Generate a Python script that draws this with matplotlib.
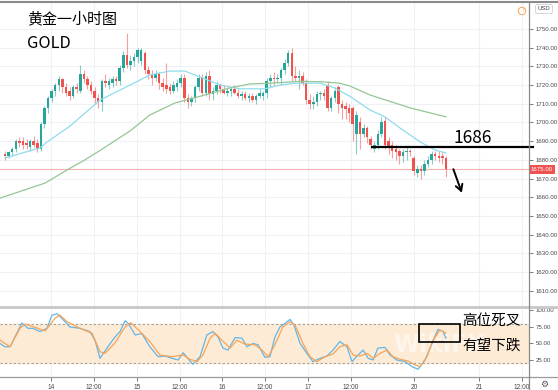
import numpy as np
import matplotlib.pyplot as plt
from matplotlib.lines import Line2D
from matplotlib.patches import Rectangle
import matplotlib.transforms as mtransforms

plt.rcParams['font.family'] = ['Noto Sans CJK SC', 'DejaVu Sans']

# hourly gold candles
opens = [1683, 1682, 1684, 1686, 1690, 1690, 1689, 1687, 1690, 1689,
         1686, 1699, 1708, 1713, 1717, 1720, 1723, 1719, 1717, 1714,
         1719, 1717, 1726, 1723, 1720, 1717, 1713, 1711, 1722, 1720,
         1721, 1723, 1722, 1729, 1736, 1731, 1733, 1735, 1733, 1737,
         1728, 1726, 1724, 1726, 1721, 1720, 1719, 1717, 1719, 1721,
         1724, 1713, 1711, 1713, 1719, 1724, 1716, 1725, 1715, 1717,
         1720, 1718, 1716, 1717, 1718, 1716, 1714, 1715, 1713, 1714,
         1712, 1714, 1714, 1716, 1722, 1724, 1723, 1724, 1728, 1732,
         1737, 1725, 1724, 1725, 1721, 1712, 1710, 1711, 1715, 1716,
         1720, 1708, 1713, 1719, 1710, 1709, 1708, 1708, 1694, 1700,
         1694, 1697, 1691, 1686, 1688, 1694, 1701, 1690, 1688, 1686,
         1685, 1682, 1684, 1685, 1681, 1673, 1675, 1674, 1678, 1680,
         1683, 1682, 1682, 1681]
highs = [1685, 1685, 1687, 1691, 1692, 1692, 1691, 1691, 1693, 1691,
         1700, 1709, 1714, 1718, 1721, 1725, 1724, 1721, 1719, 1720,
         1721, 1731, 1728, 1725, 1722, 1719, 1715, 1723, 1726, 1724,
         1725, 1725, 1731, 1738, 1748, 1736, 1737, 1740, 1740, 1738,
         1730, 1728, 1728, 1727, 1724, 1732, 1721, 1722, 1723, 1726,
         1726, 1715, 1714, 1720, 1726, 1726, 1727, 1728, 1719, 1722,
         1721, 1720, 1719, 1719, 1720, 1718, 1717, 1717, 1716, 1716,
         1715, 1718, 1717, 1724, 1726, 1727, 1726, 1729, 1734, 1739,
         1740, 1730, 1728, 1727, 1723, 1715, 1714, 1717, 1717, 1718,
         1722, 1714, 1719, 1720, 1712, 1711, 1710, 1709, 1706, 1703,
         1699, 1698, 1693, 1690, 1696, 1703, 1703, 1692, 1690, 1688,
         1686, 1686, 1687, 1686, 1682, 1677, 1677, 1680, 1682, 1685,
         1685, 1685, 1684, 1682]
lows = [1680, 1681, 1682, 1684, 1687, 1686, 1686, 1685, 1687, 1684,
        1685, 1697, 1705, 1711, 1714, 1717, 1716, 1714, 1712, 1713,
        1716, 1716, 1721, 1718, 1715, 1710, 1708, 1706, 1719, 1718,
        1719, 1720, 1720, 1727, 1729, 1728, 1730, 1732, 1731, 1726,
        1723, 1720, 1722, 1718, 1717, 1716, 1715, 1716, 1717, 1719,
        1711, 1708, 1709, 1711, 1717, 1714, 1714, 1712, 1712, 1715,
        1716, 1715, 1714, 1714, 1715, 1713, 1712, 1712, 1711, 1711,
        1710, 1713, 1712, 1713, 1719, 1720, 1721, 1720, 1726, 1730,
        1722, 1722, 1718, 1720, 1710, 1707, 1707, 1709, 1712, 1712,
        1706, 1706, 1711, 1705, 1702, 1702, 1700, 1690, 1683, 1686,
        1692, 1689, 1686, 1684, 1686, 1692, 1686, 1683, 1681, 1680,
        1678, 1679, 1680, 1682, 1672, 1671, 1670, 1672, 1676, 1678,
        1680, 1679, 1678, 1671]
closes = [1682, 1684, 1686, 1690, 1689, 1688, 1688, 1690, 1688, 1686,
          1699, 1708, 1713, 1717, 1720, 1723, 1719, 1716, 1714, 1719,
          1718, 1726, 1723, 1720, 1717, 1713, 1711, 1722, 1721, 1722,
          1723, 1722, 1729, 1736, 1731, 1733, 1735, 1739, 1739, 1728,
          1726, 1724, 1726, 1721, 1719, 1718, 1717, 1720, 1721, 1724,
          1713, 1711, 1713, 1719, 1724, 1716, 1725, 1715, 1717, 1720,
          1718, 1716, 1717, 1718, 1716, 1714, 1715, 1713, 1714, 1712,
          1714, 1716, 1716, 1722, 1724, 1723, 1724, 1728, 1732, 1737,
          1725, 1724, 1725, 1721, 1712, 1710, 1711, 1715, 1716, 1714,
          1708, 1713, 1717, 1710, 1708, 1707, 1705, 1699, 1704, 1694,
          1697, 1692, 1688, 1688, 1694, 1700, 1688, 1687, 1685, 1684,
          1682, 1684, 1685, 1684, 1674, 1675, 1674, 1678, 1680, 1683,
          1682, 1681, 1681, 1675]

# moving averages (bar position, price)
ma_fast_x = [0, 9.8, 11.7, 18.1, 26.5, 34.9, 40.4, 46.0, 50.2, 54.4, 60.0, 65.6,
             72.5, 76.7, 80.9, 85.1, 87.9, 92.0, 96.2, 101.8, 106.0, 110.2,
             115.8, 119.9, 123.0]
ma_fast_y = [1681, 1686.4, 1689.5, 1698, 1712, 1720, 1725.4, 1727.5, 1727.5,
             1724.3, 1720, 1718, 1718, 1720, 1721, 1721, 1721, 1718.4, 1714,
             1706.7, 1703, 1697, 1689.6, 1685.3, 1683.7]
ma_slow_x = [-1.4, 11.2, 17.3, 22.3, 26.5, 34.9, 40.4, 47.4, 54.4, 62.8, 68.3,
             73.9, 82.3, 87.9, 93.4, 96.2, 101.8, 108.8, 113.0, 123.0]
ma_slow_y = [1659.5, 1667.6, 1674.6, 1680, 1685, 1695.5, 1704, 1710.4, 1714,
             1718.5, 1720.6, 1721, 1722, 1721.8, 1721, 1719.5, 1714.7, 1710.4,
             1707.8, 1703]

# stochastic %K / %D
k_x = [-1.4, 0, 1.4, 2.8, 4.7, 6.4, 7.8, 9.8, 11.7, 13.1, 14.5, 15.9, 18.1,
       20.9, 23.7, 25.1, 26.5, 28.7, 30.7, 32.1, 33.5, 34.3, 36.3, 38.2, 40.4,
       42.7, 44.6, 46.6, 48.3, 49.7, 51.0, 52.4, 54.4, 56.3, 58.0, 59.4, 60.8,
       62.2, 64.2, 66.1, 67.5, 69.2, 70.6, 72.5, 73.9, 75.3, 76.7, 78.7, 79.5,
       80.6, 82.3, 84.2, 85.9, 87.9, 89.8, 91.5, 93.4, 95.4, 96.8, 98.2, 99.9,
       101.3, 102.7, 104.0, 106.0, 107.4, 109.3, 111.6, 113.5, 115.2, 117.2,
       119.1, 120.8, 122.2, 123.0]
k_val = [50, 45, 45, 60, 81, 73, 73, 68, 73, 93, 95, 88, 75, 73, 68, 55, 27.5,
         45, 60, 68, 84.5, 81, 63, 65, 45, 30, 31, 27.5, 25, 36, 27.5, 18.5, 30,
         63, 68, 60, 43, 40, 59, 58, 45, 50, 48, 29, 30, 60, 75, 83, 86.5, 78,
         50, 35, 22.5, 27.5, 31, 40, 53, 45, 22.5, 31, 40, 27.5, 25, 43, 44,
         32.5, 25, 22.5, 15, 11, 25, 50, 71.5, 68, 58]
d_x = [-1.4, 1.4, 4.2, 5.6, 8.4, 11.2, 13.9, 15.3, 17.3, 20.9, 24.3, 26.5, 27.9,
       30.7, 33.5, 35.1, 37.7, 40.4, 43.2, 46.6, 49.7, 51.6, 53.6, 55.2, 57.2,
       58.6, 60.5, 62.8, 64.7, 66.9, 69.7, 71.7, 73.4, 75.3, 77.5, 79.5, 80.9,
       83.1, 85.1, 87.0, 89.3, 91.5, 93.4, 95.4, 97.1, 99.0, 101.0, 102.7,
       104.6, 106.6, 108.2, 110.2, 112.4, 114.4, 115.8, 117.7, 119.4, 121.3,
       123.0]
d_val = [55, 45, 73, 79.5, 74.5, 69, 88, 93, 83, 73, 65.5, 37.5, 35, 51, 75,
         81.5, 68, 53, 32.5, 30, 32.5, 26, 22.5, 32.5, 58, 65.5, 55, 43, 55, 49,
         48, 40, 30, 48, 75, 83, 78, 50, 30, 22.5, 30, 34, 45, 48, 32.5, 31, 35,
         27.5, 35, 40, 30, 26, 23.5, 17.5, 15, 30, 55, 70.5, 65.5]

price_ticks = list(range(1610, 1751, 10))
stoch_ticks = [25, 50, 75, 100]
time_labels = ['14', '12:00', '15', '12:00', '16', '12:00', '17', '12:00', '20', '21', '12:00']
time_pos = [12.8, 24.8, 36.8, 48.8, 60.5, 72.5, 84.5, 96.5, 114.1, 132.2, 144.2]

last_price = 1675
level = 1686.8

W, H = 558, 390
fig = plt.figure(figsize=(W / 100, H / 100), dpi=100)
ax = fig.add_axes([0, 83 / H, 529 / W, 304 / H])
ax2 = fig.add_axes([0, 13 / H, 529 / W, 70 / H])

xlim = (-5 / 3.585, 524 / 3.585)
grid_c = '#eef1f5'
up_c, dn_c = '#26a69a', '#ef5350'
tick_font = 'Liberation Sans'
tick_fs = 4.4

# main panel
ax.set_xlim(*xlim)
ax.set_ylim(1601.3, 1763.9)
for p in price_ticks:
    ax.axhline(p, color=grid_c, lw=0.8, zorder=0)
for t in time_pos:
    ax.axvline(t, color=grid_c, lw=0.8, zorder=0)
    ax2.axvline(t, color=grid_c, lw=0.8, zorder=0)

o, h, l, c = map(np.array, (opens, highs, lows, closes))
idx = np.arange(len(c))
cols = np.where(c >= o, up_c, dn_c)
ax.vlines(idx, l, h, colors=cols, lw=0.8, alpha=0.55, zorder=2)
ax.bar(idx, np.maximum(np.abs(c - o), 0.5), bottom=np.minimum(o, c), width=0.7,
       color=cols, linewidth=0, zorder=3)

ax.plot(ma_fast_x, ma_fast_y, color='#8fdcec', lw=0.9, zorder=4)
ax.plot(ma_slow_x, ma_slow_y, color='#95c795', lw=0.9, zorder=4)
ax.axhline(last_price, color='#f7b0b0', lw=0.8, zorder=1)

ax.plot([102.4, xlim[1] + 1], [level, level], color='black', lw=1.6, zorder=5, clip_on=False)
ax.text(130.5, 1691.7, '1686', fontsize=12.5, ha='center', va='center', zorder=6)
ax.annotate('', xy=(127.7, 1661), xytext=(124.8, 1676.4),
            arrowprops=dict(arrowstyle='->,head_length=0.45,head_width=0.25',
                            color='black', lw=1.4))

ax.yaxis.tick_right()
ax.set_yticks(price_ticks)
ax.set_yticklabels([f'{p:.2f}' for p in price_ticks], family=tick_font)
ax.tick_params(axis='y', labelsize=tick_fs, colors='#666666', length=3, pad=2, width=0.6)
ax.tick_params(axis='y', labelcolor='#4a4a4a')
ax.set_xticks([])
for s in ax.spines.values():
    s.set_visible(False)

ax.text(1.003, last_price, f'{last_price:.2f}',
        transform=mtransforms.blended_transform_factory(ax.transAxes, ax.transData),
        fontsize=tick_fs, color='white', ha='left', va='center', family=tick_font,
        bbox=dict(boxstyle='square,pad=0.3', fc='#ef5350', ec='none'), clip_on=False, zorder=7)

# stochastic panel
ax2.set_xlim(*xlim)
ax2.set_ylim(-0.8, 105.3)
ax2.axhspan(20, 80, color='#fdebd5', zorder=0)
ax2.axhline(80, color='#a0a0a0', lw=0.8, ls=(0, (2, 2)), zorder=1)
ax2.axhline(20, color='#a0a0a0', lw=0.8, ls=(0, (2, 2)), zorder=1)
ax2.text(0.83, 0.45, 'WikiFX', transform=ax2.transAxes, fontsize=17, fontweight='bold',
         color='white', alpha=0.55, ha='center', va='center', zorder=1, family='DejaVu Sans')
ax2.plot(k_x, k_val, color='#62b6e8', lw=0.9, zorder=3)
ax2.plot(d_x, d_val, color='#f7a457', lw=0.9, zorder=3)
ax2.add_patch(Rectangle((115.5, 51.8), 11.5, 27.2, fill=False, ec='black', lw=1.2, zorder=5))

ax2.yaxis.tick_right()
ax2.set_yticks(stoch_ticks)
ax2.set_yticklabels([f'{v:.2f}' for v in stoch_ticks], family=tick_font)
ax2.tick_params(axis='y', labelsize=tick_fs, colors='#666666', length=3, pad=2, width=0.6)
ax2.tick_params(axis='y', labelcolor='#4a4a4a')
ax2.set_xticks(time_pos)
ax2.set_xticklabels(time_labels, family=tick_font)
ax2.tick_params(axis='x', labelsize=tick_fs + 0.4, colors='#666666', length=3, pad=2, width=0.6)
ax2.tick_params(axis='x', labelcolor='#4a4a4a')
for s in ax2.spines.values():
    s.set_visible(False)

# frame lines
fig.add_artist(Line2D([0, 1], [1 - 2 / H] * 2, color='#8a8a8a', lw=1.5))
fig.add_artist(Line2D([0, 1], [1 - 307 / H] * 2, color='#c8c8c8', lw=2))
fig.add_artist(Line2D([0, 1], [1 - 377 / H] * 2, color='#9a9a9a', lw=0.9))
fig.add_artist(Line2D([529 / W] * 2, [0, 1 - 2 / H], color='#8a8a8a', lw=0.9))

# texts
fig.text(27 / W, 1 - 19 / H, '黄金一小时图', fontsize=10.8, ha='left', va='center')
fig.text(27 / W, 1 - 43 / H, 'GOLD', fontsize=11.8, ha='left', va='center')
fig.text(462 / W, 1 - 322 / H, '高位死叉', fontsize=10.5, ha='left', va='center')
fig.text(462 / W, 1 - 346 / H, '有望下跌', fontsize=10.5, ha='left', va='center')
fig.text(544 / W, 1 - 9 / H, 'USD', fontsize=4.3, ha='center', va='center', color='#444444',
         family=tick_font, bbox=dict(boxstyle='round,pad=0.35', fc='white', ec='#cfcfcf', lw=0.6))
fig.text(522 / W, 1 - 11 / H, '!', fontsize=4.5, ha='center', va='center', color='#f5a25d',
         family='DejaVu Sans', bbox=dict(boxstyle='circle,pad=0.2', fc='white', ec='#f5a25d', lw=0.7))
fig.text(544 / W, 1 - 384 / H, '⚙', fontsize=6.5, ha='center', va='center', color='#555555',
         family='DejaVu Sans')

fig.savefig('out.png', dpi=100)
